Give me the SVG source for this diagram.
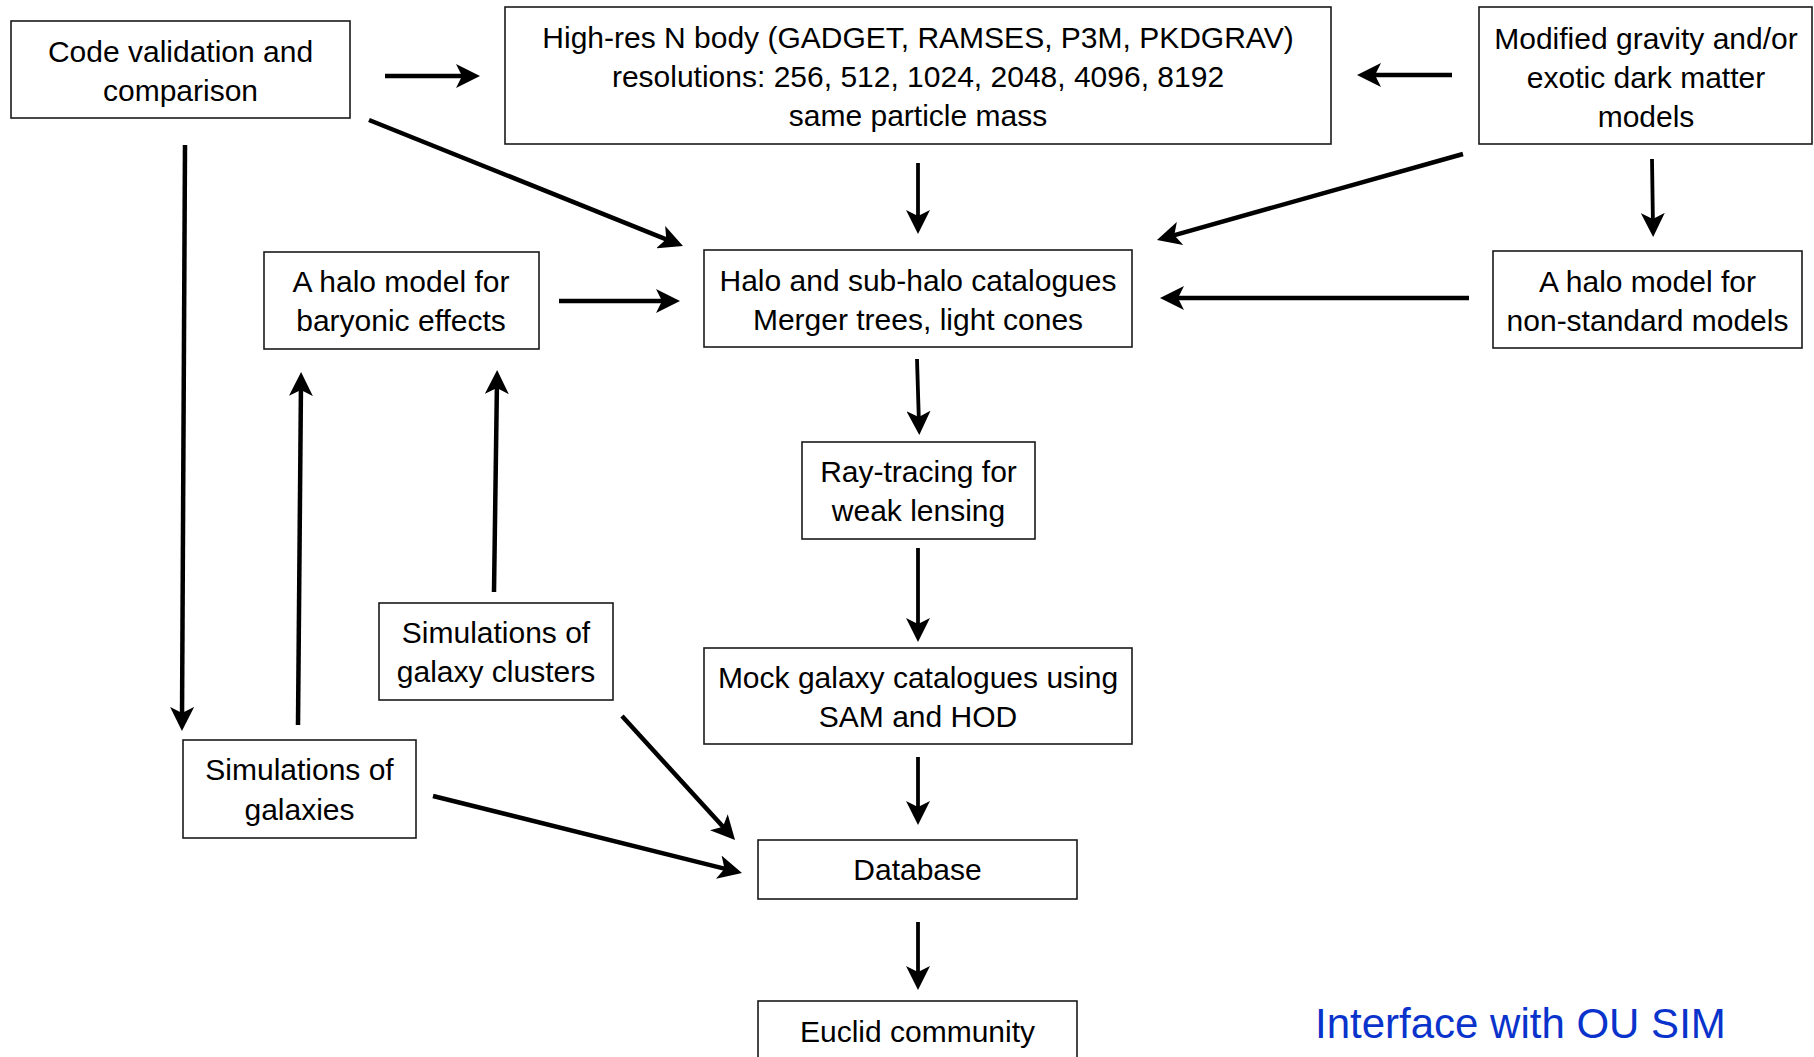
<svg xmlns="http://www.w3.org/2000/svg" width="1814" height="1057" viewBox="0 0 1814 1057">
<style>
.box{fill:#fff;stroke:#1a1a1a;stroke-width:1.6}
.t{font-family:"Liberation Sans",Arial,sans-serif;font-size:30px;fill:#000;text-anchor:middle}
.c{stroke:#000;stroke-width:4.5;fill:none;marker-end:url(#ah)}
.thin{stroke-width:3.8}
.blue{font-family:"Liberation Sans",Arial,sans-serif;font-size:42px;fill:#0a33cc}
</style>
<defs>
<marker id="ah" markerUnits="userSpaceOnUse" markerWidth="24" markerHeight="24" viewBox="0 0 24 24" refX="14" refY="12" orient="auto">
<path d="M0,0 L24,12 L0,24 L6,12 Z" fill="#000"/>
</marker>
</defs>
<rect width="1814" height="1057" fill="#fff"/>
<g id="connectors">
<line class="c" x1="385" y1="76" x2="470" y2="76"/>
<line class="c" x1="369" y1="120" x2="673.7" y2="242.3"/>
<line class="c" x1="185" y1="145" x2="182" y2="721"/>
<line class="c" x1="298" y1="725" x2="301" y2="382"/>
<line class="c" x1="494" y1="592" x2="497" y2="380"/>
<line class="c" x1="559" y1="301" x2="670" y2="301"/>
<line class="c thin" x1="918" y1="163" x2="918" y2="224"/>
<line class="c" x1="1452" y1="75" x2="1367" y2="75"/>
<line class="c" x1="1463" y1="154" x2="1166.6" y2="237.3"/>
<line class="c thin" x1="1652" y1="159" x2="1653" y2="227"/>
<line class="c" x1="1469" y1="298" x2="1170" y2="298"/>
<line class="c thin" x1="917" y1="359" x2="919" y2="425"/>
<line class="c thin" x1="918" y1="548" x2="918" y2="632"/>
<line class="c thin" x1="918" y1="757" x2="918" y2="815"/>
<line class="c thin" x1="918" y1="922" x2="918" y2="980"/>
<line class="c" x1="622" y1="716" x2="728.3" y2="832.6"/>
<line class="c" x1="433" y1="796" x2="732.3" y2="870.6"/>
</g>
<g id="code-validation">
<rect class="box" x="11" y="21" width="339" height="97"/>
<text class="t" x="180.5" y="62">Code validation and</text>
<text class="t" x="180.5" y="101">comparison</text>
</g>
<g id="high-res">
<rect class="box" x="505" y="7" width="826" height="137"/>
<text class="t" x="918" y="48">High-res N body (GADGET, RAMSES, P3M, PKDGRAV)</text>
<text class="t" x="918" y="87">resolutions: 256, 512, 1024, 2048, 4096, 8192</text>
<text class="t" x="918" y="126">same particle mass</text>
</g>
<g id="modified-gravity">
<rect class="box" x="1479" y="7" width="333" height="137"/>
<text class="t" x="1646" y="49">Modified gravity and/or</text>
<text class="t" x="1646" y="88">exotic dark matter</text>
<text class="t" x="1646" y="127">models</text>
</g>
<g id="halo-baryonic">
<rect class="box" x="264" y="252" width="275" height="97"/>
<text class="t" x="401" y="292">A halo model for</text>
<text class="t" x="401" y="331">baryonic effects</text>
</g>
<g id="halo-catalogues">
<rect class="box" x="704" y="250" width="428" height="97"/>
<text class="t" x="918" y="291">Halo and sub-halo catalogues</text>
<text class="t" x="918" y="330">Merger trees, light cones</text>
</g>
<g id="halo-nonstandard">
<rect class="box" x="1493" y="251" width="309" height="97"/>
<text class="t" x="1647.5" y="292">A halo model for</text>
<text class="t" x="1647.5" y="331">non-standard models</text>
</g>
<g id="ray-tracing">
<rect class="box" x="802" y="442" width="233" height="97"/>
<text class="t" x="918.5" y="482">Ray-tracing for</text>
<text class="t" x="918.5" y="521">weak lensing</text>
</g>
<g id="mock-galaxy">
<rect class="box" x="704" y="648" width="428" height="96"/>
<text class="t" x="918" y="688">Mock galaxy catalogues using</text>
<text class="t" x="918" y="727">SAM and HOD</text>
</g>
<g id="database">
<rect class="box" x="758" y="840" width="319" height="59"/>
<text class="t" x="917.5" y="880">Database</text>
</g>
<g id="euclid-community">
<rect class="box" x="758" y="1001" width="319" height="70"/>
<text class="t" x="917.5" y="1042">Euclid community</text>
</g>
<g id="sim-clusters">
<rect class="box" x="379" y="603" width="234" height="97"/>
<text class="t" x="496" y="643">Simulations of</text>
<text class="t" x="496" y="682">galaxy clusters</text>
</g>
<g id="sim-galaxies">
<rect class="box" x="183" y="740" width="233" height="98"/>
<text class="t" x="299.5" y="780">Simulations of</text>
<text class="t" x="299.5" y="820">galaxies</text>
</g>
<text class="blue" x="1315" y="1038">Interface with OU SIM</text>
</svg>
